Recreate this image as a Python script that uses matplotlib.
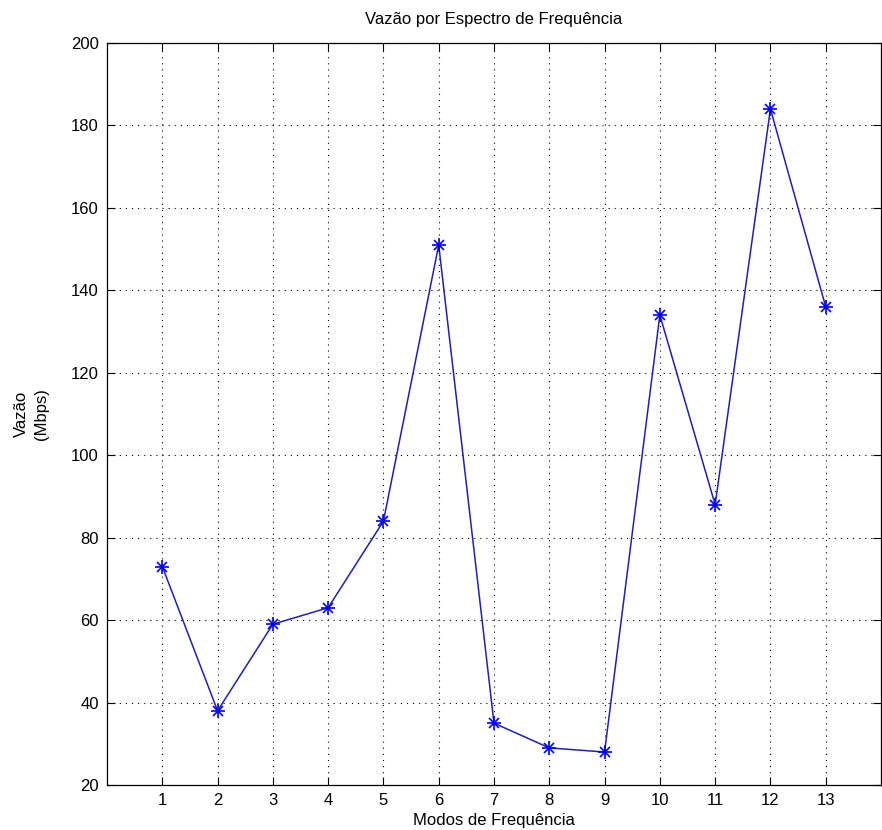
import matplotlib
matplotlib.use("Agg")
import matplotlib.pyplot as plt

modes = [1, 2, 3, 4, 5, 6, 7, 8, 9, 10, 11, 12, 13]
vazao = [73, 38, 59, 63, 84, 151, 35, 29, 28, 134, 88, 184, 136]
xticks = list(range(1, 14))
yticks = [20, 40, 60, 80, 100, 120, 140, 160, 180, 200]

plt.rcParams['font.family'] = ['Liberation Sans Narrow', 'Liberation Sans', 'DejaVu Sans']

fig = plt.figure(figsize=(8.82, 8.30), dpi=100)
ax = fig.add_axes([107/882, 45/830, 774/882, 742/830])

ax.plot(modes, vazao, color='#2020b0', linewidth=1.1)
ax.plot(modes, vazao, linestyle='none', marker='+', markersize=10,
        markeredgecolor='#0000ff', markeredgewidth=1.2)
ax.plot(modes, vazao, linestyle='none', marker='x', markersize=7,
        markeredgecolor='#0000ff', markeredgewidth=1.2)

ax.set_xlim(0, 14)
ax.set_ylim(20, 200)
ax.set_xticks(xticks)
ax.set_yticks(yticks)
ax.grid(True, color='black', linestyle=(0, (1, 4.5)), linewidth=0.8)
ax.tick_params(direction='in', length=6, width=0.8, top=True, right=True,
               labelsize=12, pad=6, colors='black')
for s in ax.spines.values():
    s.set_linewidth(0.9)

ax.set_title('Vazão por Espectro de Frequência', fontsize=12, pad=14)
ax.set_xlabel('Modos de Frequência', fontsize=12, labelpad=3)
ax.set_ylabel('Vazão\n(Mbps)', fontsize=12, labelpad=16, linespacing=1.35)

fig.savefig('out.png', dpi=100, facecolor='white')
